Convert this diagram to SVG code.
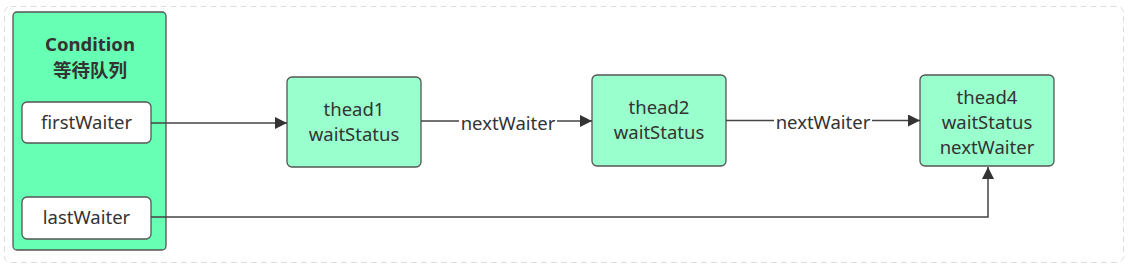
<svg xmlns="http://www.w3.org/2000/svg" width="1133" height="273" viewBox="0 0 1133 273">
<defs>
<style>
.t{font-family:"Noto Sans","Noto Sans CJK SC",sans-serif;font-size:18.5px;fill:#333;text-anchor:middle}
.b{font-weight:bold;font-size:18.5px}
.node{fill:#99ffcc;stroke:#555;stroke-width:1.3}
.field{fill:#fff;stroke:#555;stroke-width:1.3}
.edge{fill:none;stroke:#444;stroke-width:1.5}
.lbl{fill:#fff}
</style>
<marker id="arr" viewBox="0 0 10 10" refX="10" refY="5" markerWidth="20" markerHeight="12" markerUnits="userSpaceOnUse" orient="auto">
<path d="M0,0 L10,5 L0,10 z" fill="#333"/>
</marker>
</defs>
<rect x="4.5" y="6.5" width="1119" height="256" rx="6" fill="#fff" stroke="#ddd" stroke-dasharray="6,4"/>
<g id="condition">
<rect x="13" y="12" width="153" height="238" rx="4" fill="#66ffb3" stroke="#555" stroke-width="1.3"/>
<text class="t b" x="90" y="51">Condition</text>
<text class="t b" x="90" y="77">等待队列</text>
</g>
<g id="firstWaiter">
<rect class="field" x="22" y="102" width="129" height="41" rx="5"/>
<text class="t" x="86.5" y="129">firstWaiter</text>
</g>
<g id="lastWaiter">
<rect class="field" x="22" y="197" width="129" height="42" rx="5"/>
<text class="t" x="86.5" y="224">lastWaiter</text>
</g>
<g id="thead1">
<rect class="node" x="287" y="77" width="134" height="90" rx="5"/>
<text class="t" x="354" y="116">thead1</text>
<text class="t" x="354" y="141">waitStatus</text>
</g>
<g id="thead2">
<rect class="node" x="592" y="75" width="134" height="91" rx="5"/>
<text class="t" x="659" y="114">thead2</text>
<text class="t" x="659" y="139">waitStatus</text>
</g>
<g id="thead4">
<rect class="node" x="920" y="75" width="134" height="91" rx="5"/>
<text class="t" x="987" y="104">thead4</text>
<text class="t" x="987" y="129">waitStatus</text>
<text class="t" x="987" y="154">nextWaiter</text>
</g>
<g id="connectors">
<path class="edge" d="M151,123 H287" marker-end="url(#arr)"/>
<path class="edge" d="M421,121 H592" marker-end="url(#arr)"/>
<rect class="lbl" x="459" y="111" width="98" height="24"/>
<text class="t" x="508" y="130">nextWaiter</text>
<path class="edge" d="M726,120.5 H920" marker-end="url(#arr)"/>
<rect class="lbl" x="774" y="110" width="98" height="24"/>
<text class="t" x="823" y="129">nextWaiter</text>
<path class="edge" d="M151,217 H988 V167" marker-end="url(#arr)"/>
</g>
</svg>
